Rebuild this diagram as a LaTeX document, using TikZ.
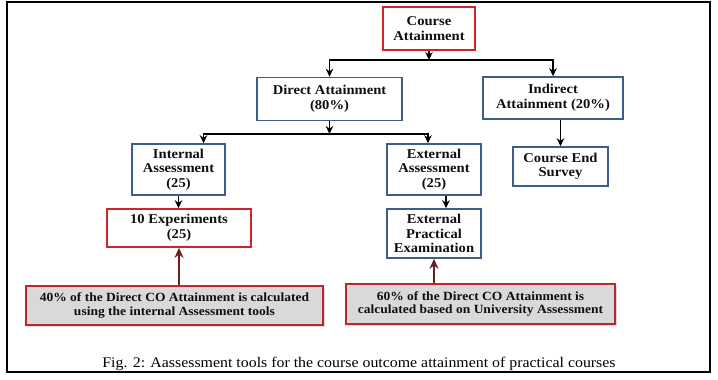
\documentclass[tikz,border=0pt]{standalone}
\usepackage{fontspec}
\setmainfont{Liberation Serif}[FakeStretch=1.08]
\usetikzlibrary{calc,shadows,arrows.meta}
\definecolor{boxred}{RGB}{208,36,42}
\definecolor{boxblue}{RGB}{58,95,140}
\definecolor{notered}{RGB}{188,38,48}
\definecolor{notefill}{RGB}{217,217,217}
\definecolor{arrowred}{RGB}{110,28,32}
\definecolor{textdark}{RGB}{15,15,15}

\begin{document}
\begin{tikzpicture}[x=1pt, y=-1pt, >={Stealth[length=8pt,width=7.5pt]},
    every node/.style={text=textdark, font=\fontsize{13.5}{14.5}\selectfont\bfseries, align=center, inner sep=2pt},
    bluebox/.style={draw=boxblue, line width=1.6pt},
    redbox/.style={draw=boxred, line width=1.6pt},
    notebox/.style={draw=notered, fill=notefill, line width=1.6pt, font=\fontsize{12.5}{13.5}\selectfont\bfseries,
        drop shadow={shadow xshift=2pt, shadow yshift=-2pt, fill=black!25, opacity=.6}},
    link/.style={->, line width=1.4pt},
    uplink/.style={-{Stealth[length=10pt,width=9pt]}, draw=arrowred, line width=2pt}]
        \useasboundingbox (0,0) rectangle (718,380);
        % Khung ngoai
        \draw[line width=1.2pt] (7,2) rectangle (710,372);
        % Tang tren
        \node[redbox, minimum width=92pt, minimum height=43pt] (ca) at (429,28.5) {Course\\Attainment};
        \node[bluebox, minimum width=145pt, minimum height=43pt] (da) at (329.5,99) {Direct Attainment\\(80\%)};
        \node[bluebox, minimum width=140pt, minimum height=42pt] (ia) at (553,98) {Indirect\\Attainment (20\%)};
        % Tang giua
        \node[bluebox, minimum width=93pt, minimum height=51pt] (int) at (178.5,169.5) {Internal\\Assessment\\(25)};
        \node[bluebox, minimum width=94pt, minimum height=51pt] (ext) at (434,169.5) {External\\Assessment\\(25)};
        \node[bluebox, minimum width=95pt, minimum height=39pt] (ces) at (560.5,166.5) {Course End\\Survey};
        \node[redbox, minimum width=144pt, minimum height=38pt] (exp) at (179,228) {10 Experiments\\(25)};
        \node[bluebox, minimum width=94pt, minimum height=49pt] (epe) at (434,233.5) {External\\Practical\\Examination};
        % Ghi chu
        \node[notebox, minimum width=297pt, minimum height=39pt] (nl) at (174.5,305.5) {40\% of the Direct CO Attainment is calculated\\using the internal Assessment tools};
        \node[notebox, minimum width=269pt, minimum height=40pt] (nr) at (480.5,304) {60\% of the Direct CO Attainment is\\calculated based on University Assessment};
        % Chu thich hinh
        \node[font=\fontsize{14.7}{16}\selectfont, anchor=base, text=black] (cap) at (359,367) {Fig. 2: Aassessment tools for the course outcome attainment of practical courses};
        % Mui ten
        \coordinate (j1) at (ca.south |- 0,60);
        \coordinate (j2) at (da.south |- 0,134);
        \draw[link] (ca.south) -- (j1);
        \draw[link] (j1) -| (da.north);
        \draw[link] (j1) -| (ia.north);
        \draw[link] (da.south) -- (j2);
        \draw[link] (j2) -| ([xshift=25pt]int.north);
        \draw[link] (j2) -| ([xshift=-6pt]ext.north);
        \draw[link] (ia.south -| ces.north) -- (ces.north);
        \draw[link] (int.south) -- (int.south |- exp.north);
        \draw[link] ([xshift=12pt]ext.south) -- ([xshift=12pt]epe.north);
        \draw[uplink] (nl.north -| exp.south) -- (exp.south);
        \draw[uplink] (nr.north -| epe.south) -- (epe.south);
    \end{tikzpicture}
\end{document}
